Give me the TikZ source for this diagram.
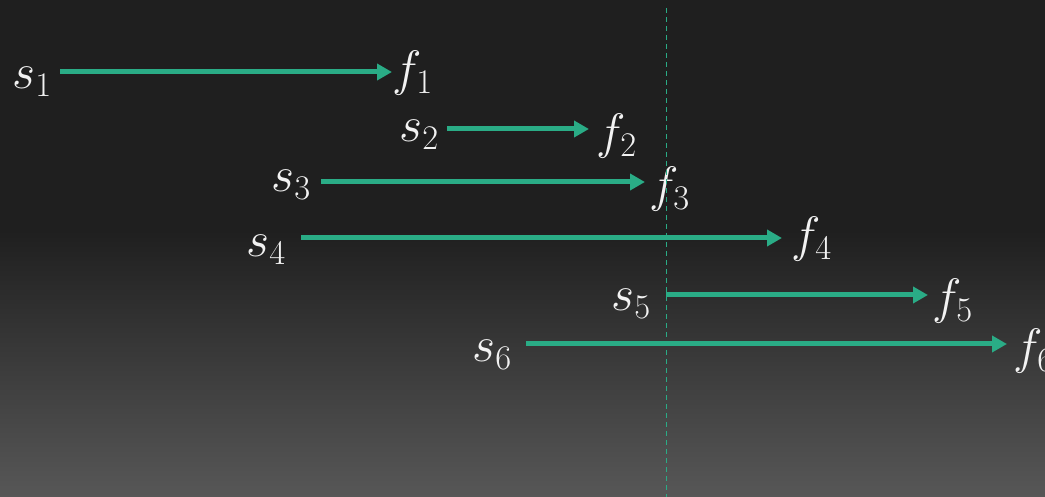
\documentclass[tikz,border=0pt]{standalone}
\usetikzlibrary{arrows.meta}
\DeclareMathSizes{24.88}{24.88}{17.28}{14.4}
\definecolor{bgtop}{HTML}{1F1F1F}
\definecolor{bgbot}{HTML}{575757}
\definecolor{arrowgreen}{RGB}{42,172,134}
\definecolor{labtext}{HTML}{F2F2F2}
\begin{document}
\begin{tikzpicture}[x=0.5pt,y=-0.5pt,
  lab/.style={anchor=base west, inner sep=0pt, text=labtext, font=\fontsize{24.88}{30}\selectfont},
  conn/.style={draw=arrowgreen, line width=2.5pt, -{Triangle[length=7.5pt,width=8pt]}},
  guide/.style={draw=arrowgreen, line width=0.75pt, dash pattern=on 2.5pt off 2pt}]
\clip (0,0) rectangle (1045,497);
\fill[bgtop] (0,0) rectangle (1045,497);
\shade[top color=bgtop, bottom color=bgbot] (0,230) rectangle (1045,497);
% labels
\node[lab] (s1) at (12,89) {$s_1$};
\node[lab] (f1) at (392,86) {$f_1$};
\node[lab] (s2) at (399,142) {$s_2$};
\node[lab] (f2) at (596,149) {$f_2$};
\node[lab] (s3) at (271,192) {$s_3$};
\node[lab] (f3) at (649,202) {$f_3$};
\node[lab] (s4) at (246,257) {$s_4$};
\node[lab] (f4) at (791,252) {$f_4$};
\node[lab] (s5) at (611,311) {$s_5$};
\node[lab] (f5) at (932,314) {$f_5$};
\node[lab] (s6) at (472,362) {$s_6$};
\node[lab] (f6) at (1013,364) {$f_6$};
% arrow endpoints
\coordinate (a1) at (60,72);   \coordinate (b1) at (392,72);
\coordinate (a2) at (447,129); \coordinate (b2) at (589,129);
\coordinate (a3) at (321,182); \coordinate (b3) at (645,182);
\coordinate (a4) at (301,238); \coordinate (b4) at (782,238);
\coordinate (a5) at (666,295); \coordinate (b5) at (928,295);
\coordinate (a6) at (526,344); \coordinate (b6) at (1007,344);
\foreach \i in {1,...,6} { \draw[conn] (a\i) -- (b\i); }
% vertical dashed guide
\coordinate (gtop) at (666.5,8);
\coordinate (gbot) at (666.5,497);
\draw[guide] (gtop) -- (gbot);
\end{tikzpicture}
\end{document}
